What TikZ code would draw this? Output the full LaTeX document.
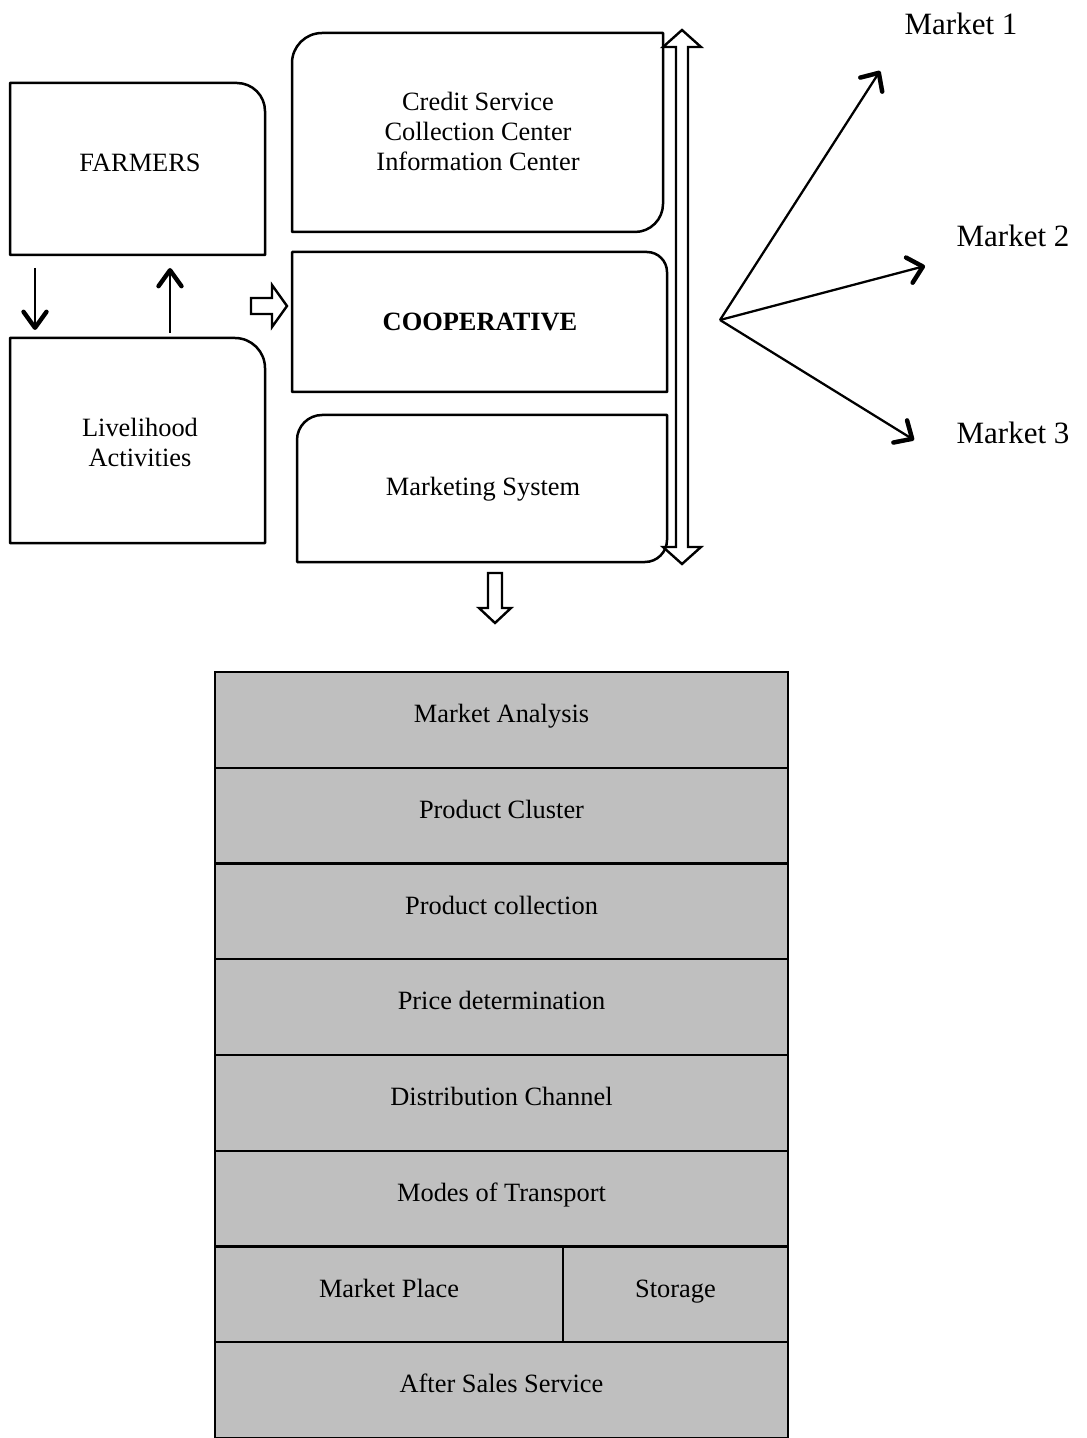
\documentclass[tikz,border=0pt]{standalone}
\usepackage{fontspec}
\setmainfont{Liberation Serif}
\usetikzlibrary{arrows.meta,calc}
\definecolor{cellgray}{HTML}{BFBFBF}

% Outline of a frame node with individually rounded corners (radii in px: TL, TR, BR, BL)
\newcommand\cornerframe[5]{%
  \draw[boxline]
    ($(#1.north west)+(0,#2)$) .. controls ($(#1.north west)+(0,0.45*#2)$) and ($(#1.north west)+(0.45*#2,0)$) .. ($(#1.north west)+(#2,0)$)
    -- ($(#1.north east)+(-#3,0)$) .. controls ($(#1.north east)+(-0.45*#3,0)$) and ($(#1.north east)+(0,0.45*#3)$) .. ($(#1.north east)+(0,#3)$)
    -- ($(#1.south east)+(0,-#4)$) .. controls ($(#1.south east)+(0,-0.45*#4)$) and ($(#1.south east)+(-0.45*#4,0)$) .. ($(#1.south east)+(-#4,0)$)
    -- ($(#1.south west)+(#5,0)$) .. controls ($(#1.south west)+(0.45*#5,0)$) and ($(#1.south west)+(0,-0.45*#5)$) .. ($(#1.south west)+(0,-#5)$)
    -- cycle;}

\tikzset{
  boxline/.style={line width=1.25pt, line join=round},
  frame/.style={inner sep=0pt, outer sep=0pt, anchor=north west},
  txt/.style={align=center, inner sep=0pt, font=\fontsize{13.2pt}{15pt}\selectfont},
  celltxt/.style={txt, anchor=base},
  mtxt/.style={inner sep=0pt, font=\fontsize{15.5pt}{18pt}\selectfont},
  cell/.style={draw, line width=1.2pt, fill=cellgray, inner sep=0pt, outer sep=0pt,
    anchor=north west, minimum height=47.875pt},
  thinarrow/.style={line width=1pt, -{Straight Barb[length=8pt,width=11.5pt,line width=2.2pt,round]}},
  mktarrow/.style={line width=1.1pt, -{Straight Barb[length=7pt,width=13pt,line width=2.2pt,round]}},
  hollow/.style={draw, line width=1.2pt, fill=white, line join=miter},
}

\begin{document}
\begin{tikzpicture}[x=0.5pt, y=-0.5pt]
\useasboundingbox (0,0) rectangle (1086,1438);

% ---- left column ----
\node[frame, minimum width=127.5pt, minimum height=86pt]   (farmers) at (10,83) {};
\node[frame, minimum width=127.5pt, minimum height=102.5pt] (live)    at (10,338) {};
\cornerframe{farmers}{0}{28}{0}{0}
\cornerframe{live}{0}{30}{0}{0}
\node[txt] (farmersT) at (140,163) {FARMERS};
\node[txt] (liveT) at (140,442) {Livelihood\\Activities};

\draw[thinarrow] ([xshift=12.5pt,yshift=-6.5pt]farmers.south west) -- ([xshift=12.5pt,yshift=4pt]live.north west);
\draw[thinarrow] ([xshift=80pt,yshift=2.5pt]live.north west) -- ([xshift=80pt,yshift=-6.5pt]farmers.south west);

% hollow arrow into the cooperative
\draw[hollow] (251,298) -- (272,298) -- (272,285) -- (287,306) -- (272,327) -- (272,314) -- (251,314) -- cycle;

% ---- cooperative column ----
\node[frame, minimum width=185.5pt, minimum height=99.5pt] (credit) at (292,33) {};
\node[frame, minimum width=187.5pt, minimum height=70pt]   (coop)   at (292,252) {};
\node[frame, minimum width=185pt,   minimum height=73.5pt] (mkt)    at (297,415) {};
\cornerframe{credit}{30}{0}{28}{0}
\cornerframe{coop}{0}{20}{0}{0}
\cornerframe{mkt}{25}{0}{22}{0}
\node[txt] (creditT) at (478,131) {Credit Service\\Collection Center\\Information Center};
\node[txt, font=\fontsize{13.2pt}{15pt}\selectfont\bfseries] (coopT) at (480,322) {COOPERATIVE};
\node[txt] (mktT) at (483,489) {Marketing System};

% vertical double-headed hollow arrow
\draw[hollow] (682,30) -- (701,47) -- (688,47) -- (688,547) -- (701,547) -- (682,564)
  -- (663,547) -- (676,547) -- (676,47) -- (663,47) -- cycle;

% hollow arrow down to the marketing table
\draw[hollow] (488,573) -- (502,573) -- (502,608) -- (511,608) -- (495,623) -- (479,608) -- (488,608) -- cycle;

% ---- markets ----
\coordinate (hub) at (720,320);
\coordinate (m1tip) at (880,71);
\coordinate (m2tip) at (925,266);
\coordinate (m3tip) at (914,440);
\begin{scope}[shift={(2,3)}, draw=black!25]
  \draw[mktarrow] (hub) -- (m1tip);
  \draw[mktarrow] (hub) -- (m2tip);
  \draw[mktarrow] (hub) -- (m3tip);
\end{scope}
\draw[mktarrow] (hub) -- (m1tip);
\draw[mktarrow] (hub) -- (m2tip);
\draw[mktarrow] (hub) -- (m3tip);
\node[mtxt] (mk1) at (961,24) {Market 1};
\node[mtxt] (mk2) at (1013,236) {Market 2};
\node[mtxt] (mk3) at (1013,433) {Market 3};

% ---- marketing system table ----
\node[cell, minimum width=286.5pt] (ma)   at (215,672) {};
\node[cell, minimum width=286.5pt] (pc)   at (215,767.75) {};
\node[cell, minimum width=286.5pt] (pcol) at (215,863.5) {};
\node[cell, minimum width=286.5pt] (pd)   at (215,959.25) {};
\node[cell, minimum width=286.5pt] (dc)   at (215,1055) {};
\node[cell, minimum width=286.5pt] (mt)   at (215,1150.75) {};
\node[cell, minimum width=174pt]   (mp)   at (215,1246.5) {};
\node[cell, minimum width=112.5pt] (st)   at (563,1246.5) {};
\node[cell, minimum width=286.5pt] (as)   at (215,1342.25) {};

% labels sit on a common baseline 50.5px below each row top
\node[celltxt] (maT)   at ([yshift=-25.25pt]ma.north)   {Market Analysis};
\node[celltxt] (pcT)   at ([yshift=-25.25pt]pc.north)   {Product Cluster};
\node[celltxt] (pcolT) at ([yshift=-25.25pt]pcol.north) {Product collection};
\node[celltxt] (pdT)   at ([yshift=-25.25pt]pd.north)   {Price determination};
\node[celltxt] (dcT)   at ([yshift=-25.25pt]dc.north)   {Distribution Channel};
\node[celltxt] (mtT)   at ([yshift=-25.25pt]mt.north)   {Modes of Transport};
\node[celltxt] (mpT)   at ([yshift=-25.25pt]mp.north)   {Market Place};
\node[celltxt] (stT)   at ([yshift=-25.25pt]st.north)   {Storage};
\node[celltxt] (asT)   at ([yshift=-25.25pt]as.north)   {After Sales Service};
\end{tikzpicture}
\end{document}
